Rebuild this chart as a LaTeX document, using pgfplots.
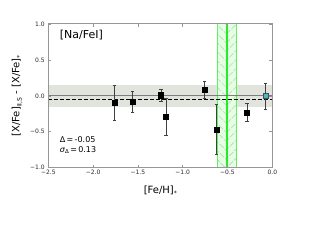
\documentclass[border=0pt]{standalone}
\usepackage{fontspec}
\setmainfont{DejaVu Sans}
\usepackage{pgfplots}
\pgfplotsset{compat=1.18}
\usetikzlibrary{patterns.meta}
\definecolor{axgray}{RGB}{150,150,150}
\definecolor{zgray}{RGB}{125,125,125}
\definecolor{bandgray}{RGB}{225,227,221}
\definecolor{gfill}{RGB}{232,252,232}
\definecolor{ghatch}{RGB}{110,240,110}
\definecolor{gedge}{RGB}{100,238,100}
\definecolor{gline}{RGB}{40,235,40}
\definecolor{cyanm}{RGB}{64,190,195}
\begin{document}
\begin{tikzpicture}[x=1pt,y=1pt]
\path[use as bounding box] (0,0) rectangle (320,240);
\begin{axis}[
  at={(48.3pt,72.3pt)}, anchor=south west,
  scale only axis, width=224pt, height=143.7pt,
  xmin=-2.5, xmax=0, ymin=-1, ymax=1,
  xtick={-2.5,-2,-1.5,-1,-0.5,0},
  xticklabels={−2.5,−2.0,−1.5,−1.0,−0.5,0.0},
  ytick={-1,-0.5,0,0.5,1},
  yticklabels={−1.0,−0.5,0.0,0.5,1.0},
  tick align=inside,
  axis line style={axgray, line width=1pt},
  tick style={axgray, line width=0.6pt},
  major tick length=3pt,
  ticklabel style={font=\fontsize{6}{7}\selectfont, text=black!85},
  xticklabel style={yshift=1pt},
  xlabel={[Fe/H]\raisebox{-0.35ex}{\fontsize{6}{6}\selectfont *}},
  ylabel={[X/Fe]\raisebox{-0.4ex}{\fontsize{6}{6}\selectfont II,S} - [X/Fe]\raisebox{-0.35ex}{\fontsize{6}{6}\selectfont *}},
  label style={font=\fontsize{10}{12}\selectfont},
  xlabel style={yshift=-4pt},
  ylabel style={yshift=1pt},
  axis on top,
]
\addplot[fill=bandgray, draw=none] coordinates {(-2.5,-0.152) (0,-0.152) (0,0.152) (-2.5,0.152)} -- cycle;
\addplot[fill=gfill, draw=none] coordinates {(-0.612,-1) (-0.612,1) (-0.402,1) (-0.402,-1)} -- cycle;
\addplot[draw=none, pattern={Lines[angle=-45, distance=6.4pt, line width=0.7pt]}, pattern color=ghatch] coordinates {(-0.612,-1) (-0.612,1) (-0.507,1) (-0.507,-1)} -- cycle;
\addplot[draw=none, pattern={Lines[angle=45, distance=6.4pt, line width=0.7pt]}, pattern color=ghatch] coordinates {(-0.507,-1) (-0.507,1) (-0.402,1) (-0.402,-1)} -- cycle;
\addplot[gedge, line width=0.6pt] coordinates {(-0.612,-1) (-0.612,1)};
\addplot[gedge, line width=0.6pt] coordinates {(-0.402,-1) (-0.402,1)};
\addplot[gline, line width=1.6pt] coordinates {(-0.507,-1) (-0.507,1)};
\addplot[zgray, line width=1.2pt] coordinates {(-2.5,0) (0,0)};
\addplot[black, line width=0.8pt, dash pattern=on 4pt off 2pt] coordinates {(-2.5,-0.045) (0,-0.045)};
\addplot[only marks, mark=square*, mark size=2.6pt, black,
  error bars/.cd, y dir=both, y explicit,
  error bar style={line width=0.7pt, color=black!75},
  error mark options={rotate=90, mark size=1.6pt, line width=0.6pt, color=black!75}]
  coordinates {
  (-1.763,-0.10) +- (0,0.24)
  (-1.5625,-0.08) +- (0,0.15)
  (-1.242,0.01) +- (0,0.08)
  (-1.186,-0.29) +- (0,0.26)
  (-0.755,0.086) +- (0,0.115)
  (-0.625,-0.47) +- (0,0.35)
  (-0.282,-0.23) +- (0,0.13)
  };
\addplot[only marks, mark=square*, mark size=2.5pt, draw=black!70, fill=cyanm,
  mark options={line width=0.5pt},
  error bars/.cd, y dir=both, y explicit,
  error bar style={line width=0.7pt, color=black!75},
  error mark options={rotate=90, mark size=1.6pt, line width=0.6pt, color=black!75}]
  coordinates {(-0.074,-0.005) +- (0,0.18)};
\node[anchor=west, font=\fontsize{11}{13}\selectfont] at (axis cs:-2.41,0.851) {[Na/FeI]};
\node[anchor=west, font=\fontsize{8}{10}\selectfont] at (axis cs:-2.41,-0.61) {Δ\,=\,-0.05};
\node[anchor=west, font=\fontsize{8}{10}\selectfont] at (axis cs:-2.41,-0.755) {\textit{σ}\raisebox{-0.35ex}{\fontsize{5.5}{6}\selectfont Δ}\,=\,0.13};
\end{axis}
\end{tikzpicture}
\end{document}
